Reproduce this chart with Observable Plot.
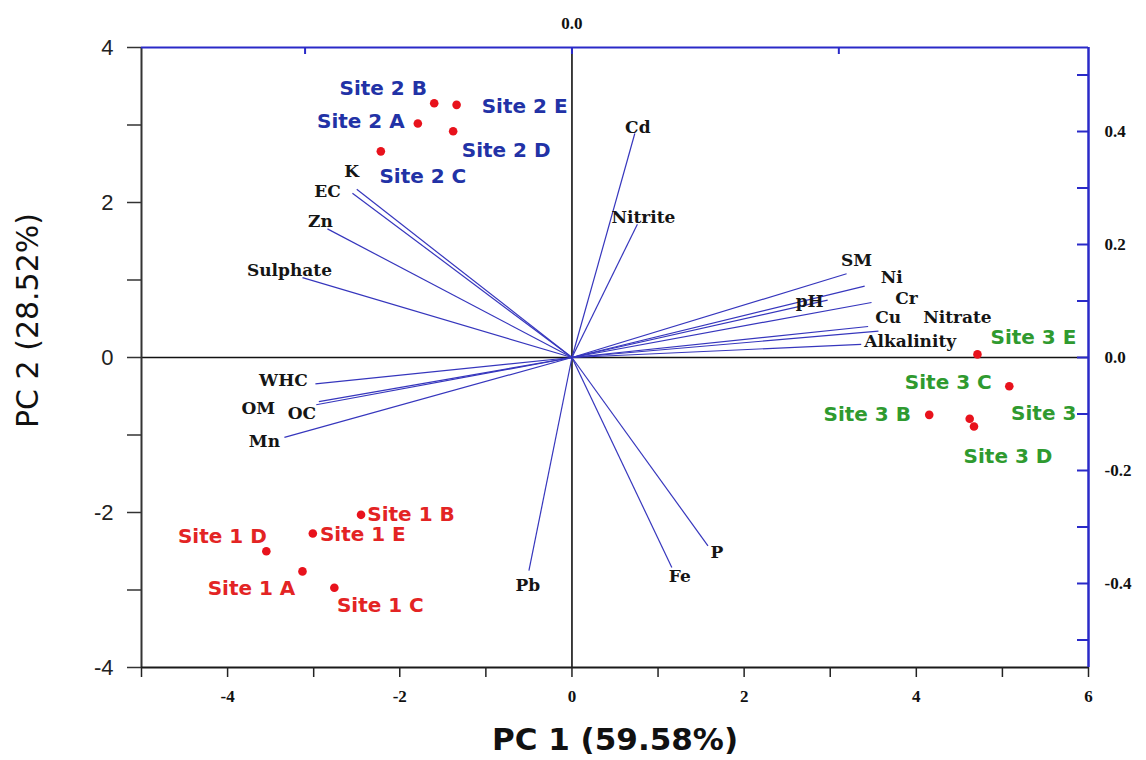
<!DOCTYPE html>
<html><head><meta charset="utf-8">
<script src="https://cdn.jsdelivr.net/npm/d3@7"></script>
<script src="https://cdn.jsdelivr.net/npm/@observablehq/plot@0.6"></script>
<style>body{margin:0;background:#fff}</style>
</head><body><div id="chart"></div>
<script>
// ---- data ----
const siteNames = ["Site 2 B","Site 2 E","Site 2 A","Site 2 D","Site 2 C","Site 1 B","Site 1 E","Site 1 D","Site 1 A","Site 1 C","Site 3 E","Site 3 C","Site 3 B","Site 3","Site 3 D"];
const sitePC1 = [-1.60,-1.34,-1.79,-1.38,-2.22,-2.45,-3.01,-3.55,-3.13,-2.76,4.71,5.08,4.15,4.62,4.67];
const sitePC2 = [3.28,3.26,3.02,2.92,2.66,-2.03,-2.27,-2.50,-2.76,-2.97,0.04,-0.37,-0.74,-0.79,-0.89];
const siteGroup = [2,2,2,2,2,1,1,1,1,1,3,3,3,3,3];

const variableNames = ["Cd","Nitrite","K","EC","Zn","Sulphate","WHC","OM","OC","Mn","Pb","Fe","P","SM","Ni","pH","Cr","Cu","Nitrate","Alkalinity"];
const variablePC1 = [0.73,0.76,-2.50,-2.55,-2.84,-3.13,-2.98,-2.97,-2.94,-3.34,-0.50,1.16,1.58,3.19,3.40,2.97,3.48,3.44,3.56,3.36];
const variablePC2 = [2.89,1.72,2.17,2.12,1.66,1.03,-0.34,-0.61,-0.57,-1.03,-2.75,-2.71,-2.43,1.08,0.92,0.74,0.71,0.40,0.34,0.17];

const xTicks = [-5,-4,-3,-2,-1,0,1,2,3,4,5,6];
const yTicks = [-4,-3,-2,-1,0,1,2,3,4];
const rightLoadingTicks = [-0.5,-0.4,-0.3,-0.2,-0.1,0,0.1,0.2,0.3,0.4,0.5];
const topLoadingTicks = [-0.4,0,0.4];
const loadingScaleY = 7.29;   // PC2 units per loading unit (right axis)
const loadingScaleX = 7.75;   // PC1 units per loading unit (top axis)

const xTitle = "PC 1 (59.58%)";
const yTitle = "PC 2 (28.52%)";

// ---- layout / style ----
const groupColor = {1: "#e32424", 2: "#2232a6", 3: "#2f9a2f"};
const blue = "#2a2ac8";
const siteLabelOffset = {
  "Site 2 B": [-51,-15], "Site 2 E": [68,2], "Site 2 A": [-57,-2], "Site 2 D": [53,19], "Site 2 C": [42,25],
  "Site 1 B": [50,0], "Site 1 E": [50,1], "Site 1 D": [-44,-15], "Site 1 A": [-51,17], "Site 1 C": [46,18],
  "Site 3 E": [56,-17], "Site 3 C": [-61,-4], "Site 3 B": [-62,0], "Site 3": [74,-5], "Site 3 D": [34,30]
};
const varLabelOffset = {
  "Cd": [3,-6], "Nitrite": [6,-7], "K": [-5,-18], "EC": [-25,-2], "Zn": [-7,-7], "Sulphate": [-13,-7],
  "WHC": [-32,-3], "OM": [-58,4], "OC": [-17,12], "Mn": [-20,4], "Pb": [-1,15], "Fe": [8,9], "P": [9,7],
  "SM": [10,-13], "Ni": [27,-9], "pH": [-18,1], "Cr": [35,-4], "Cu": [20,-9], "Nitrate": [79,-14], "Alkalinity": [49,-3]
};

const sites = siteNames.map((name, i) => ({name, pc1: sitePC1[i], pc2: sitePC2[i], group: siteGroup[i]}));
const variables = variableNames.map((name, i) => ({name, pc1: variablePC1[i], pc2: variablePC2[i]}));

const serif = "Liberation Serif, Times New Roman, serif";
const wideSerif = "DejaVu Serif, serif";
const sans = "Liberation Sans, Arial, sans-serif";
const wideSans = "DejaVu Sans, sans-serif";
const hy = s => String(s).replace("\u2212", "-");

const marks = [
  Plot.ruleY([0], {stroke: "#111", strokeWidth: 1.6}),
  Plot.ruleX([0], {stroke: "#111", strokeWidth: 1.6}),
  Plot.link(variables, {x1: () => 0, y1: () => 0, x2: "pc1", y2: "pc2", stroke: "#3636bd", strokeWidth: 1.2}),
  ...variables.map(v => Plot.text([v], {
    x: "pc1", y: "pc2", text: "name", dx: varLabelOffset[v.name][0], dy: varLabelOffset[v.name][1],
    fontFamily: wideSerif, fontWeight: "bold", fontSize: 17, fill: "#151515"
  })),
  Plot.dot(sites, {x: "pc1", y: "pc2", r: 4.3, fill: "#e8121c", stroke: "none"}),
  ...sites.map(s => Plot.text([s], {
    x: "pc1", y: "pc2", text: "name", dx: siteLabelOffset[s.name][0], dy: siteLabelOffset[s.name][1],
    fontFamily: wideSans, fontWeight: "bold", fontSize: 20, fill: groupColor[s.group]
  })),
  Plot.ruleX([-5], {stroke: "#333", strokeWidth: 2}),
  Plot.ruleY([-4], {stroke: "#1a1a1a", strokeWidth: 2}),
  Plot.ruleY([4], {stroke: blue, strokeWidth: 2}),
  Plot.ruleX([6], {stroke: blue, strokeWidth: 2.5}),
  Plot.axisX({ticks: xTicks, anchor: "bottom", tickSize: 10, tickPadding: 12, label: null,
    tickFormat: d => d % 2 === 0 ? hy(d) : "", fontFamily: serif, fontWeight: "bold", fontSize: 17,
    stroke: "#222", fill: "#111", strokeWidth: 1.5}),
  Plot.axisY({ticks: yTicks, anchor: "left", tickSize: 14, tickPadding: 14, label: null,
    tickFormat: d => d % 2 === 0 ? hy(d) : "", fontFamily: sans, fontSize: 22,
    stroke: "#333", fill: "#222", strokeWidth: 1.5}),
  Plot.axisY({ticks: rightLoadingTicks.map(v => v * loadingScaleY), anchor: "right", tickSize: -12, tickPadding: 28, label: null,
    tickFormat: d => { const v = Math.round(d / loadingScaleY * 10); return v % 2 === 0 ? hy((v / 10).toFixed(1)) : ""; },
    fontFamily: serif, fontWeight: "bold", fontSize: 17, stroke: blue, fill: "#111", strokeWidth: 2, textAnchor: "start"}),
  Plot.axisX({ticks: topLoadingTicks.map(v => v * loadingScaleX), anchor: "top", tickSize: -6, tickPadding: 25, label: null,
    tickFormat: d => Math.abs(d) < 1e-9 ? "0.0" : "",
    fontFamily: serif, fontWeight: "bold", fontSize: 17, stroke: blue, fill: "#111", strokeWidth: 2}),
  Plot.text([xTitle], {text: d => d, frameAnchor: "bottom", dy: 73, textAnchor: "middle", lineAnchor: "middle",
    fontFamily: wideSans, fontWeight: "bold", fontSize: 31, fill: "#111"}),
  Plot.text([yTitle], {text: d => d, frameAnchor: "left", dx: -113, dy: -37, rotate: -90, textAnchor: "middle", lineAnchor: "middle",
    fontFamily: wideSans, fontSize: 30, fill: "#111"})
];

const chart = Plot.plot({
  width: 1146, height: 760,
  marginLeft: 141, marginRight: 58, marginTop: 47, marginBottom: 93,
  x: {domain: [-5, 6]},
  y: {domain: [-4, 4]},
  style: {background: "white", overflow: "visible"},
  marks
});
document.getElementById("chart").appendChild(chart);
</script>
</body></html>
